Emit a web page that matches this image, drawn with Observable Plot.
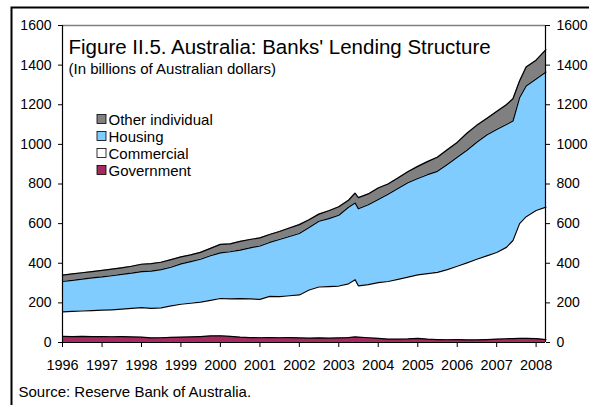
<!DOCTYPE html>
<html>
<head>
<meta charset="utf-8">
<script src="https://cdn.jsdelivr.net/npm/d3@7"></script>
<script src="https://cdn.jsdelivr.net/npm/@observablehq/plot@0.6"></script>
<style>
  html, body { margin: 0; padding: 0; background: white; }
  svg { display: block; }
</style>
</head>
<body>
<div id="chart"></div>
<script>
// Sample dates (mostly quarterly, extra points where the series bend sharply)
const dates = [
  "1996-01","1996-04","1996-07","1996-10","1997-01","1997-04","1997-07","1997-10",
  "1998-01","1998-04","1998-07","1998-10","1999-01","1999-04","1999-07","1999-10",
  "2000-01","2000-04","2000-07","2000-10","2001-01","2001-04","2001-07","2001-10",
  "2002-01","2002-04","2002-07","2002-10","2003-01","2003-04","2003-06","2003-07",
  "2003-10","2004-01","2004-04","2004-07","2004-10","2005-01","2005-04","2005-07",
  "2005-10","2006-01","2006-04","2006-07","2006-10","2007-01","2007-04","2007-06",
  "2007-08","2007-10","2008-01","2008-04"
];
// Billions of Australian dollars, by component
const government = [31,30,31,30,30,29,30,28,27,23,24,26,27,28,30,33,34,31,27,25,24,25,24,25,23,22,23,22,23,25,28,27,24,21,17,17,18,21,17,15,14,15,13,13,15,17,19,20,21,21,20,15];
const commercial = [124,127,128,131,133,136,138,144,149,149,151,159,166,170,174,180,188,189,194,195,194,208,208,211,217,243,257,260,262,271,289,259,268,281,291,302,312,320,331,339,354,370,389,407,422,437,461,495,579,614,646,668];
const housing = [153,157,161,165,168,172,176,178,182,188,193,195,204,210,216,225,230,238,245,258,269,272,288,299,310,315,332,343,357,387,387,389,403,420,440,458,476,487,499,510,531,550,568,591,610,621,620,603,635,660,664,682];
const otherIndividual = [32,32,32,32,33,33,33,35,37,38,37,38,35,34,35,37,43,40,44,42,41,40,40,43,45,40,36,40,43,35,50,56,55,58,52,53,56,61,66,71,74,75,86,85,84,91,100,112,85,95,95,113];

const seriesNames = ["Government", "Commercial", "Housing", "Other individual"];
const seriesColors = ["#A52A60", "#FFFFFF", "#80CCFF", "#808080"];
const legendOrder = ["Other individual", "Housing", "Commercial", "Government"];
const yTicks = [0, 200, 400, 600, 800, 1000, 1200, 1400, 1600];
const yearTicks = ["1996","1997","1998","1999","2000","2001","2002","2003","2004","2005","2006","2007","2008"];

const seriesValues = {
  "Government": government,
  "Commercial": commercial,
  "Housing": housing,
  "Other individual": otherIndividual
};
const parse = d3.utcParse("%Y-%m");
const data = [];
for (const name of seriesNames) {
  seriesValues[name].forEach((v, i) => data.push({date: parse(dates[i]), series: name, value: v}));
}

const x0 = parse("1996-01"), x1 = d3.utcParse("%Y-%m-%d")("2008-03-28");
const font = "'Liberation Sans', Arial, sans-serif";

const svg = Plot.plot({
  width: 589,
  height: 405,
  marginLeft: 62,
  marginRight: 44,
  marginTop: 25,
  marginBottom: 63,
  style: {fontFamily: font, fontSize: "14px", color: "black", background: "white", overflow: "visible"},
  x: {type: "utc", domain: [x0, x1]},
  y: {domain: [0, 1600]},
  color: {domain: seriesNames, range: seriesColors},
  marks: [
    Plot.areaY(data, {x: "date", y: "value", z: "series", fill: "series", order: seriesNames}),
    Plot.lineY(data, Plot.stackY2({x: "date", y: "value", z: "series", order: seriesNames, stroke: "black", strokeWidth: 1.2})),
    Plot.ruleY([1600], {stroke: "#808080", strokeWidth: 1.5}),
    Plot.ruleY([0], {stroke: "black", strokeWidth: 1.2}),
    Plot.ruleX([x0, x1], {stroke: "black", strokeWidth: 1.2}),
    Plot.axisY(yTicks, {anchor: "left", tickSize: 4, tickPadding: 7, label: null, fontSize: 14, tickFormat: d => String(d)}),
    Plot.axisY(yTicks, {anchor: "right", tickSize: 4, tickPadding: 7, label: null, fontSize: 14, tickFormat: d => String(d)}),
    Plot.axisX(yearTicks.map(y => d3.utcParse("%Y")(y)), {anchor: "bottom", tickSize: 5, tickPadding: 12, tickFormat: "%Y", label: null, fontSize: 14.5})
  ]
});

const s = d3.select(svg);
// outer frame (left and top edges)
s.append("path").attr("d", "M11.5,405V7.5H589").attr("fill", "none").attr("stroke", "black").attr("stroke-width", 2);

const addText = (x, y, size, str) =>
  s.append("text").attr("x", x).attr("y", y).attr("font-family", font).attr("font-size", size)
    .attr("fill", "black").attr("text-anchor", "start").text(str);

addText(68.5, 54, 20.5, "Figure II.5. Australia: Banks' Lending Structure");
addText(68.5, 74, 15, "(In billions of Australian dollars)");

legendOrder.forEach((name, i) => {
  const yc = 119 + i * 17;
  s.append("rect").attr("x", 97).attr("y", yc - 4.5).attr("width", 9).attr("height", 9)
    .attr("fill", seriesColors[seriesNames.indexOf(name)]).attr("stroke", "black").attr("stroke-width", 0.8);
  addText(108.5, yc + 5.5, 15, name);
});

addText(18.5, 397, 15, "Source: Reserve Bank of Australia.");

document.getElementById("chart").appendChild(svg);
</script>
</body>
</html>
